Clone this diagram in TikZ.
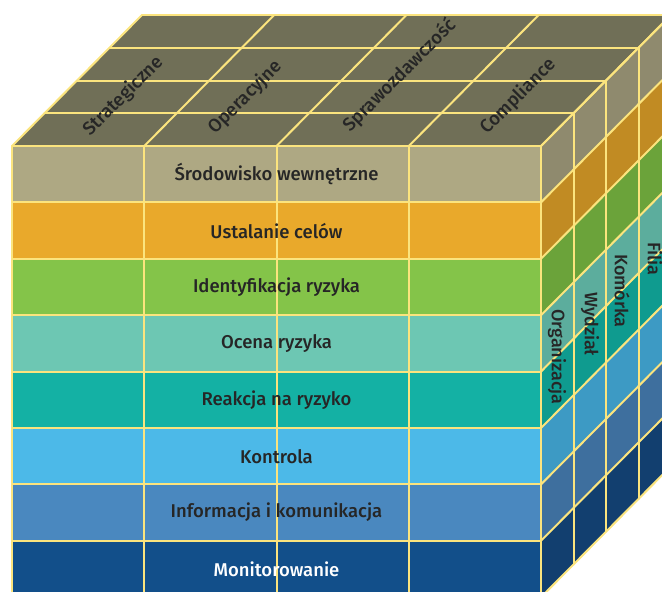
\documentclass[tikz,border=0pt]{standalone}
\usepackage{fontspec}
\setmainfont{Fira Sans}[UprightFont=* Medium]

% face colours
\definecolor{topface}{HTML}{706F57}
\definecolor{gridline}{HTML}{FBE47E}
\definecolor{labeltext}{HTML}{262626}
\definecolor{fA}{HTML}{AEA883}
\definecolor{fB}{HTML}{E9A92B}
\definecolor{fC}{HTML}{84C449}
\definecolor{fD}{HTML}{6DC7B3}
\definecolor{fE}{HTML}{14B1A4}
\definecolor{fF}{HTML}{4CB9E8}
\definecolor{fG}{HTML}{4A88BF}
\definecolor{fH}{HTML}{124F8A}
\definecolor{sA}{HTML}{8F8A6E}
\definecolor{sB}{HTML}{C18B23}
\definecolor{sC}{HTML}{6BA33A}
\definecolor{sD}{HTML}{5CAD9D}
\definecolor{sE}{HTML}{0F9B8F}
\definecolor{sF}{HTML}{3D9AC4}
\definecolor{sG}{HTML}{3E6F9E}
\definecolor{sH}{HTML}{123F6F}

\begin{document}
\begin{tikzpicture}[x=1pt,y=-1pt,
  gridstroke/.style={draw=gridline, line width=2pt, line cap=round, line join=round},
  rowlabel/.style={font=\fontsize{18.5}{22}\selectfont, text=labeltext, inner sep=0pt},
  toplabel/.style={font=\fontsize{18.5}{22}\selectfont, text=labeltext, inner sep=0pt, rotate=45, anchor=base west},
  sidelabel/.style={font=\fontsize{18}{21}\selectfont, text=labeltext, inner sep=0pt, rotate=-90}]
\useasboundingbox (0,0) rectangle (662,592);
\begin{scope}
\clip (0,0) rectangle (662,592);

% top face
\fill[topface] (12,146) -- (541,146) -- ++(130,-131) -- (142,15) -- cycle;

% front face rows
\foreach \c [count=\j from 0] in {fA,fB,fC,fD,fE,fF,fG,fH}
  \fill[\c] (12,{146+56.4*\j}) rectangle (541,{146+56.4*(\j+1)});

% side face rows
\foreach \c [count=\j from 0] in {sA,sB,sC,sD,sE,sF,sG,sH}
  \fill[\c] (541,{146+56.4*\j}) -- ++(130,-131) -- ++(0,56.4) -- ++(-130,131) -- cycle;

% grid: front face
\foreach \j in {0,...,8}
  \draw[gridstroke] (12,{146+56.4*\j}) -- (541,{146+56.4*\j});
\foreach \i in {0,...,4}
  \draw[gridstroke] ({12+132.25*\i},146) -- ({12+132.25*\i},597.2);

% grid: top face
\foreach \k in {1,...,4}
  \draw[gridstroke] ({12+32.5*\k},{146-32.75*\k}) -- ({541+32.5*\k},{146-32.75*\k});
\foreach \i in {0,...,4}
  \draw[gridstroke] ({12+132.25*\i},146) -- ++(130,-131);

% grid: side face
\foreach \k in {1,...,4}
  \draw[gridstroke] ({541+32.5*\k},{146-32.75*\k}) -- ({541+32.5*\k},{597.2-32.75*\k});
\foreach \j in {0,...,8}
  \draw[gridstroke] (541,{146+56.4*\j}) -- ++(130,-131);
\end{scope}

% front labels
\foreach \t [count=\j from 0] in {Środowisko wewnętrzne, Ustalanie celów, Identyfikacja ryzyka, Ocena ryzyka, Reakcja na ryzyko, Kontrola, Informacja i komunikacja}
  \node[rowlabel] (row\j) at (276.5,{146+56.4*\j+28.2}) {\t};
\node[rowlabel, text=white] (row7) at (276.5,{146+56.4*7+28.2}) {Monitorowanie};

% top labels
\node[toplabel] (objA) at (90,137) {Strategiczne};
\node[toplabel] (objB) at (215,135) {Operacyjne};
\node[toplabel] (objC) at (350,133) {Sprawozdawczość};
\node[toplabel] (objD) at (487,135) {Compliance};

% side labels
\node[sidelabel] (unitA) at (557,357) {Organizacja};
\node[sidelabel] (unitB) at (590,324) {Wydział};
\node[sidelabel] (unitC) at (622,291) {Komórka};
\node[sidelabel] (unitD) at (655,259) {Filia};
\end{tikzpicture}
\end{document}
